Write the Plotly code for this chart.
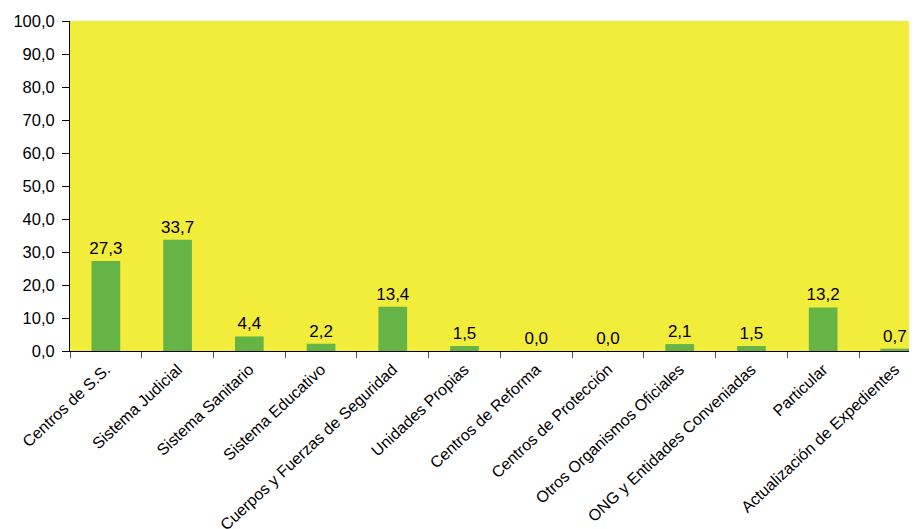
import plotly.graph_objects as go

categorias = [
    "Centros de S.S.", "Sistema Judicial", "Sistema Sanitario", "Sistema Educativo",
    "Cuerpos y Fuerzas de Seguridad", "Unidades Propias", "Centros de Reforma",
    "Centros de Protección", "Otros Organismos Oficiales", "ONG y Entidades Conveniadas",
    "Particular", "Actualización de Expedientes",
]
porcentajes = [27.3, 33.7, 4.4, 2.2, 13.4, 1.5, 0.0, 0.0, 2.1, 1.5, 13.2, 0.7]
ticks_y = [0, 10, 20, 30, 40, 50, 60, 70, 80, 90, 100]

fig = go.Figure(go.Bar(
    x=categorias, y=porcentajes,
    marker=dict(color="#66B446", line=dict(width=0)),
    width=0.4,
    text=porcentajes, texttemplate="%{y:.1f}", textposition="outside",
    textfont=dict(size=17, color="black"),
    constraintext="none",
    cliponaxis=False,
))

# la página añade 8px de margen al cuerpo
fig.update_layout(
    width=917, height=529,
    margin=dict(l=62, r=0, t=13, b=186),
    paper_bgcolor="white", plot_bgcolor="#F2EC3A",
    font=dict(family="Liberation Sans, Arial", size=16, color="black"),
    separators=",.",
    showlegend=False,
)
fig.update_xaxes(
    range=[-0.5, 11.42], tickangle=-43, tickson="boundaries", automargin=False,
    ticks="outside", ticklen=6, tickcolor="#555", showline=True, linecolor="black",
    linewidth=1, tickfont=dict(size=16), showgrid=False,
    ticklabelstandoff=2,
)
fig.update_yaxes(
    range=[0, 100], tickvals=ticks_y, tickformat=".1f", automargin=False,
    ticks="outside", ticklen=7, tickcolor="black", showline=True, linecolor="black",
    linewidth=1, tickfont=dict(size=16.5), showgrid=False, zeroline=False,
    ticklabelstandoff=4,
)

fig.write_html("out.html")
